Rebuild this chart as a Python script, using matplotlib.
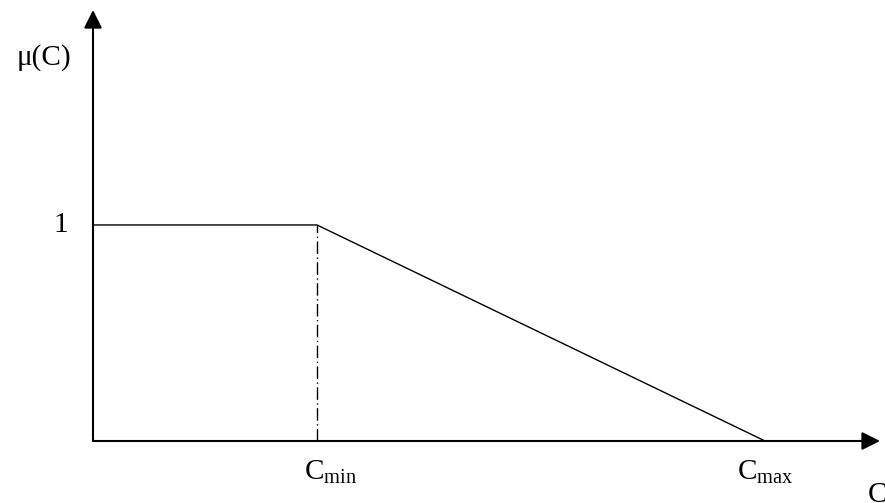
import matplotlib
matplotlib.use("Agg")
import matplotlib.pyplot as plt

plt.rcParams['font.family'] = ['Liberation Serif', 'DejaVu Serif']
plt.rcParams['mathtext.fontset'] = 'custom'
plt.rcParams['mathtext.rm'] = 'Liberation Serif'
plt.rcParams['mathtext.it'] = 'Liberation Serif:italic'

# Membership function data
c_points = [0, 1, 3]        # 0, Cmin, Cmax
mu_points = [1, 1, 0]
c_min = 1
c_max = 3
x_end = 3.513
y_end = 1.995

W, H = 885, 503
fig = plt.figure(figsize=(W / 100, H / 100), dpi=100)
ox, oy = 93, 441
ax = fig.add_axes([ox / W, (H - oy) / H, (880 - ox) / W, (oy - 10) / H])
ax.set_xlim(0, x_end)
ax.set_ylim(0, y_end)
ax.axis('off')

# axes arrows
arrow = dict(arrowstyle='-|>,head_length=1.0,head_width=0.5', mutation_scale=11,
             lw=1.5, color='black', shrinkA=0, shrinkB=0)
ax.annotate('', xy=(x_end, 0), xytext=(0, 0), arrowprops=arrow, annotation_clip=False)
ax.annotate('', xy=(0, y_end), xytext=(0, 0), arrowprops=arrow, annotation_clip=False)

# membership curve
ax.plot(c_points, mu_points, color='black', lw=1.0, solid_joinstyle='miter', clip_on=False)
# dash-dot guide at Cmin
ax.plot([c_min, c_min], [0, 1], color='black', lw=1.0, linestyle=(0, (9, 2.5, 1, 2.5)), clip_on=False)

fs = 21
ax.text(-0.339, 1.741, 'μ(C)', fontsize=fs, ha='left', va='baseline', clip_on=False)
ax.text(-0.11, 1.0, '1', fontsize=fs, ha='right', va='center', clip_on=False)
ax.text(c_min - 0.058, -0.1806, r'$\mathrm{C}_{\mathrm{min}}$', fontsize=fs, ha='left', va='baseline', clip_on=False)
ax.text(c_max - 0.125, -0.1806, r'$\mathrm{C}_{\mathrm{max}}$', fontsize=fs, ha='left', va='baseline', clip_on=False)
ax.text(3.46, -0.282, 'C', fontsize=fs, ha='left', va='baseline', clip_on=False)

fig.savefig('out.png', dpi=100)
